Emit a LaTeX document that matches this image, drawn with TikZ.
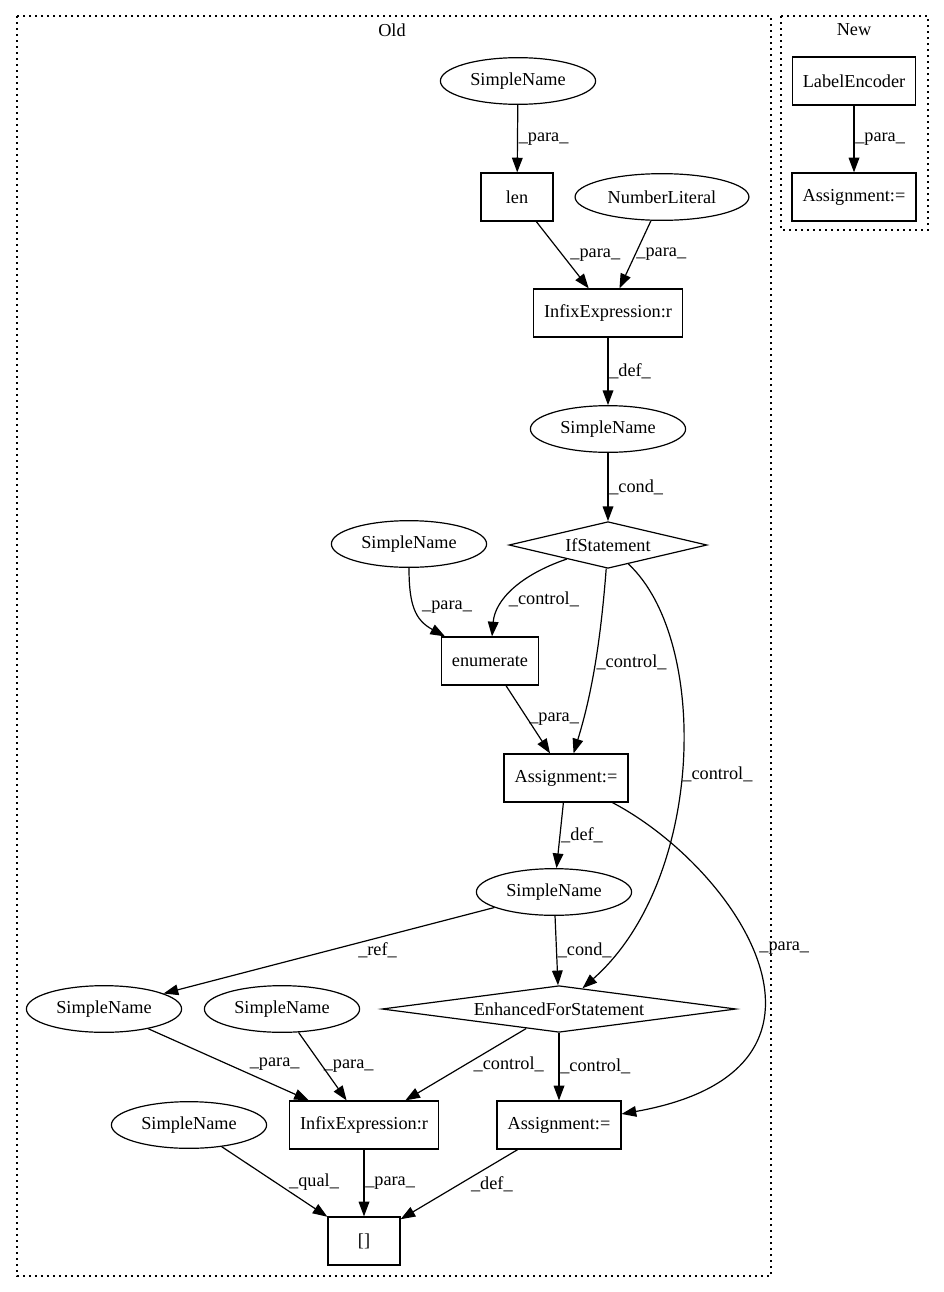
\documentclass[tikz,border=0pt]{standalone}
\usepackage{fontspec}
\setmainfont{Liberation Serif}
\usetikzlibrary{arrows.meta,shapes.geometric}

\begin{document}
\begin{tikzpicture}[
  x=.75pt,y=-.75pt,
  >={Triangle[length=11pt,width=8pt]},
  every node/.style={font=\fontsize{13.7}{16}\selectfont},
  link/.style={draw=black,line width=.9pt,->},
  ident/.style={draw=black,line width=.9pt,ellipse,inner xsep=5.4pt,inner ysep=2pt,
    minimum height=35pt},
  expr/.style={draw=black,line width=.9pt,rectangle,inner xsep=8pt,
    minimum width=54pt,minimum height=36pt},
  ctrl/.style={draw=black,line width=.9pt,diamond,inner sep=0pt,minimum height=35pt},
  cluster/.style={draw=black,line width=.9pt,dash pattern=on 1.2pt off 3.3pt},
  lbl/.style={anchor=west,inner sep=.5pt}]

\useasboundingbox (0,0) rectangle (944,1292);

\draw[cluster] (17,16) rectangle (771,1276);
\draw[cluster] (781,16) rectangle (928,230);
\node (oldtitle) at (392,30) {Old};
\node (newtitle) at (854,30) {New};

\node[ident] (lenarg) at (518,81) {SimpleName};
\node[expr] (lencall) at (517,197) {len};
\node[ident] (number) at (662,197) {NumberLiteral};
\node[expr] (compare) at (608,313) {InfixExpression:r};
\node[ident] (flag) at (608,429) {SimpleName};
\node[ctrl,aspect=4.2,minimum width=148.5pt] (ifstmt) at (608,545) {IfStatement};
\node[ident] (seq) at (409,544) {SimpleName};
\node[expr] (enumcall) at (490,661) {enumerate};
\node[expr] (pairs) at (566,778) {Assignment:=};
\node[ident] (item) at (554,892) {SimpleName};
\node[ctrl,aspect=7.5,minimum width=265.5pt] (loop) at (559,1009) {EnhancedForStatement};
\node[ident] (itemref) at (104,1009) {SimpleName};
\node[ident] (offset) at (282,1009) {SimpleName};
\node[expr] (sum) at (364,1125) {InfixExpression:r};
\node[expr] (store) at (559,1125) {Assignment:=};
\node[ident] (target) at (189,1125) {SimpleName};
\node[expr] (index) at (364,1241) {[]};

\node[expr] (encoder) at (854,81) {LabelEncoder};
\node[expr] (encoded) at (854,197) {Assignment:=};

\draw[link] (lenarg) -- node[lbl] {\_para\_} (lencall);
\draw[link] (lencall) -- node[lbl,xshift=5pt] {\_para\_} (compare);
\draw[link] (number) -- node[lbl] {\_para\_} (compare);
\draw[link] (compare) -- node[lbl] {\_def\_} (flag);
\draw[link] (flag) -- node[lbl] {\_cond\_} (ifstmt);
\draw[link] (seq) .. controls (409,605) and (415,620) .. (enumcall)
  node[lbl,pos=.45,xshift=5pt] {\_para\_};
\draw[link] (ifstmt) .. controls (520,575) and (495,600) .. (enumcall)
  node[lbl,pos=.62,xshift=2pt] {\_control\_};
\draw[link] (ifstmt) .. controls (600,650) and (590,700) .. (pairs)
  node[lbl,pos=.45] {\_control\_};
\draw[link] (ifstmt) .. controls (710,640) and (705,880) .. (loop)
  node[lbl,pos=.52] {\_control\_};
\draw[link] (enumcall) -- node[lbl] {\_para\_} (pairs);
\draw[link] (pairs) -- node[lbl] {\_def\_} (item);
\draw[link] (pairs) .. controls (740,870) and (870,1070) .. (store)
  node[lbl,pos=.45,xshift=5pt] {\_para\_};
\draw[link] (item) -- node[lbl,xshift=21pt] {\_ref\_} (itemref);
\draw[link] (item) -- node[lbl] {\_cond\_} (loop);
\draw[link] (itemref) -- node[lbl,xshift=15pt] {\_para\_} (sum);
\draw[link] (offset) -- node[lbl] {\_para\_} (sum);
\draw[link] (loop) -- node[lbl,xshift=5pt] {\_control\_} (sum);
\draw[link] (loop) -- node[lbl] {\_control\_} (store);
\draw[link] (target) -- node[lbl,xshift=10pt] {\_qual\_} (index);
\draw[link] (sum) -- node[lbl] {\_para\_} (index);
\draw[link] (store) -- node[lbl,xshift=8pt] {\_def\_} (index);
\draw[link] (encoder) -- node[lbl] {\_para\_} (encoded);
\end{tikzpicture}
\end{document}
